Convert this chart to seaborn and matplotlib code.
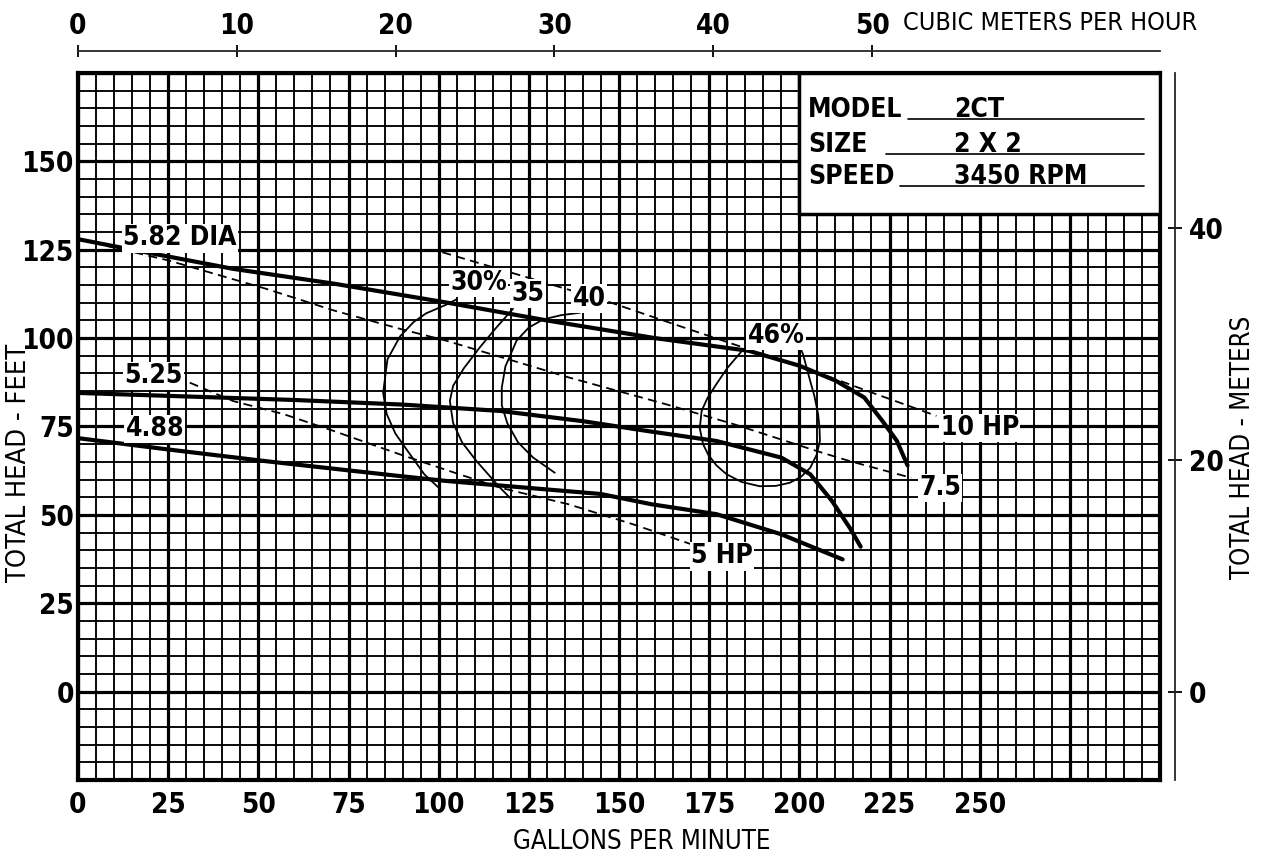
import numpy as np
import pandas as pd
import matplotlib.pyplot as plt
import seaborn as sns
from matplotlib import font_manager as fm
from matplotlib.ticker import MultipleLocator, FuncFormatter
from matplotlib.patches import Rectangle

# head curves (gpm, feet)
gpm_582 = [0, 10, 43, 71, 102, 130, 160, 186, 200, 210, 218, 223, 227, 230]
ft_582 = [128, 126, 119.6, 115.4, 110.1, 105, 100, 96.4, 92.2, 88, 83.2, 76.6, 71, 64]
gpm_525 = [0, 30, 60, 90, 117, 140, 158, 177, 195, 203, 209, 214, 217]
ft_525 = [84.5, 83.5, 82.5, 81.2, 79.4, 76.5, 73.7, 70.9, 66.2, 61.5, 54, 46.3, 41]
gpm_488 = [0, 25, 52, 89, 102, 145, 159, 177, 195, 212]
ft_488 = [71.7, 68.5, 65.2, 61, 59.6, 55.9, 53, 50.2, 44.5, 37.4]

# horsepower lines
gpm_hp10 = [101, 145, 168, 205, 219, 238]
ft_hp10 = [124.3, 111, 103, 90.3, 85, 78]
gpm_hp75 = [0, 25, 52, 71, 89, 102, 136, 163, 182, 205, 214, 231]
ft_hp75 = [128, 122, 114, 107.8, 102.7, 99.3, 88.9, 81.3, 75.6, 68, 65.2, 60.5]
gpm_hp5 = [31, 43, 57, 71, 89, 103, 117, 136, 154, 170]
ft_hp5 = [87.4, 82.2, 78.5, 73.7, 67.2, 62.4, 57.7, 53, 47.3, 41.7]

# efficiency curves
gpm_e30 = [100.4, 96, 92, 88, 85.6, 84.6, 85.8, 89.3, 93, 96.5, 102.2, 105]
ft_e30 = [57.3, 61.5, 67.2, 73, 78.5, 84.5, 94, 100.5, 104.5, 107, 109.5, 111]
gpm_e35 = [119.8, 117, 110.5, 106.5, 104, 103.1, 104, 107, 111.5, 116, 120.6]
ft_e35 = [54.8, 57.7, 65.2, 70.5, 76, 82.2, 86.5, 91.5, 97.5, 103, 108.3]
gpm_e40 = [132.2, 126.2, 122, 119, 117.5, 117.5, 118.5, 121.6, 125, 129, 134, 139.2]
ft_e40 = [61.9, 66.2, 70.5, 76, 81, 86, 92, 99.3, 103, 105.3, 106.5, 107.2]
gpm_e46 = [184.5, 180, 177, 174.5, 172.9, 172.4, 173.3, 174.7, 177, 179.8, 184, 189, 193.5,
           197.4, 200.5, 203, 204.8, 205.7, 205.6, 205.2, 204.2, 203, 201, 200.2]
ft_e46 = [96.9, 91.5, 87, 83, 79.4, 74.5, 70, 67.1, 64, 61.5, 59.3, 58.1, 58.2,
          59.1, 60.8, 63.3, 67, 70.9, 74.5, 78.5, 83.5, 87.9, 95.5, 97.4]

# curve labels: text, gpm, feet
curve_labels = ["5.82 DIA", "5.25", "4.88", "30%", "35", "40", "46%", "10 HP", "7.5", "5 HP"]
label_gpm = [28.3, 21, 21.3, 111, 124.8, 141.7, 193.5, 250, 239, 178.5]
label_ft = [128.2, 89.3, 74.3, 115.7, 112.6, 111.2, 100.7, 74.6, 57.6, 38.3]

gpm_ticks = [0, 25, 50, 75, 100, 125, 150, 175, 200, 225, 250]
ft_ticks = [0, 25, 50, 75, 100, 125, 150]
m3h_ticks = [0, 10, 20, 30, 40, 50]
m_ticks = [0, 20, 40]

info_keys = ["MODEL", "SIZE", "SPEED"]
info_vals = ["2CT", "2 X 2", "3450 RPM"]

sns.set_style('white')

# pick a narrow face if one is installed
ttfs = fm.fontManager.ttflist
names = {f.name for f in ttfs}
stretch = 'normal'
if 'Liberation Sans Narrow' in names:
    fam = 'Liberation Sans Narrow'
elif any(f.name == 'DejaVu Sans' and 'ondensed' in f.fname for f in ttfs):
    fam = 'DejaVu Sans'
    stretch = 'condensed'
else:
    fam = 'Roboto'
plt.rcParams['font.family'] = [fam, 'DejaVu Sans']
plt.rcParams['font.stretch'] = stretch
plt.rcParams['text.color'] = 'black'
plt.rcParams['xtick.color'] = 'black'
plt.rcParams['ytick.color'] = 'black'
BOLD = 'black' if fam == 'Roboto' else 'bold'

fig = plt.figure(figsize=(12.62, 8.59), dpi=100)
ax = fig.add_axes([0.0618, 0.092, 0.8574, 0.823])

def line(x, y, lw, ls='-'):
    df = pd.DataFrame({'gpm': x, 'ft': y})
    sns.lineplot(data=df, x='gpm', y='ft', sort=False, estimator=None,
                 color='black', lw=lw, linestyle=ls, ax=ax, zorder=3)

for x, y in [(gpm_582, ft_582), (gpm_525, ft_525), (gpm_488, ft_488)]:
    line(x, y, 3.0)
for x, y in [(gpm_hp10, ft_hp10), (gpm_hp75, ft_hp75), (gpm_hp5, ft_hp5)]:
    line(x, y, 1.3, (0, (5, 3)))
for x, y in [(gpm_e30, ft_e30), (gpm_e35, ft_e35), (gpm_e40, ft_e40), (gpm_e46, ft_e46)]:
    line(x, y, 1.3)

ax.set_xlim(0, 300)
ax.set_ylim(-25, 175)
ax.set_xlabel("")
ax.set_ylabel("")
ax.xaxis.set_major_locator(MultipleLocator(25))
ax.xaxis.set_minor_locator(MultipleLocator(5))
ax.yaxis.set_major_locator(MultipleLocator(25))
ax.yaxis.set_minor_locator(MultipleLocator(5))
ax.xaxis.set_major_formatter(FuncFormatter(lambda v, p: f"{v:.0f}" if round(v) in gpm_ticks else ""))
ax.yaxis.set_major_formatter(FuncFormatter(lambda v, p: f"{v:.0f}" if round(v) in ft_ticks else ""))
ax.grid(which='major', color='black', lw=2.3)
ax.grid(which='minor', color='black', lw=1.35)
ax.set_axisbelow(True)
ax.tick_params(which='both', length=0)
ax.tick_params(axis='x', pad=8)
ax.tick_params(axis='y', pad=3)
for lab in ax.get_xticklabels() + ax.get_yticklabels():
    lab.set_fontsize(20)
    lab.set_fontweight(BOLD)
for s in ax.spines.values():
    s.set_linewidth(3)
    s.set_color('black')

for t, x, y in zip(curve_labels, label_gpm, label_ft):
    ax.text(x, y, t, fontsize=19, fontweight=BOLD, ha='center', va='center', zorder=5,
            bbox=dict(facecolor='white', edgecolor='none', pad=1.0))

fig.text(642 / 1262, 1 - 842 / 859, "GALLONS PER MINUTE", fontsize=18.5, ha='center', va='center')
fig.text(19 / 1262, 1 - 463 / 859, "TOTAL HEAD - FEET", fontsize=19.5, rotation=90, ha='center', va='center')
fig.text(1243 / 1262, 1 - 447 / 859, "TOTAL HEAD - METERS", fontsize=18.5, rotation=90, ha='center', va='center')
fig.text(1050 / 1262, 1 - 23 / 859, "CUBIC METERS PER HOUR", fontsize=18, ha='center', va='center')

# info box
ax.add_patch(Rectangle((200, 135), 100, 40, facecolor='white', edgecolor='black', lw=2.5, zorder=4))
key_y = [164.5, 154.6, 145.5]
line_x0 = [230, 224, 228]
for k, v, y, x0 in zip(info_keys, info_vals, key_y, line_x0):
    ax.text(202.5, y, k, fontsize=19, fontweight=BOLD, ha='left', va='center', zorder=5)
    ax.text(243, y, v, fontsize=19, fontweight=BOLD, ha='left', va='center', zorder=5)
    ax.plot([x0, 295.5], [y - 2.5, y - 2.5], color='black', lw=1.2, zorder=5)

# top axis: cubic meters per hour
top = ax.secondary_xaxis('top', functions=(lambda g: g / 4.403, lambda m: m * 4.403))
top.set_xticks(m3h_ticks)
top.spines['top'].set_position(('outward', 16))
top.spines['top'].set_linewidth(1.3)
top.tick_params(direction='inout', length=9, width=1.3, pad=3)
for lab in top.get_xticklabels():
    lab.set_fontsize(20)
    lab.set_fontweight(BOLD)

# right axis: meters
right = ax.secondary_yaxis('right', functions=(lambda f: f * 0.3048, lambda m: m / 0.3048))
right.set_yticks(m_ticks)
right.spines['right'].set_position(('outward', 11))
right.spines['right'].set_linewidth(1.3)
right.tick_params(direction='inout', length=10, width=1.3, pad=5)
for lab in right.get_yticklabels():
    lab.set_fontsize(20)
    lab.set_fontweight(BOLD)

fig.savefig("out.png", dpi=100, facecolor='white')
